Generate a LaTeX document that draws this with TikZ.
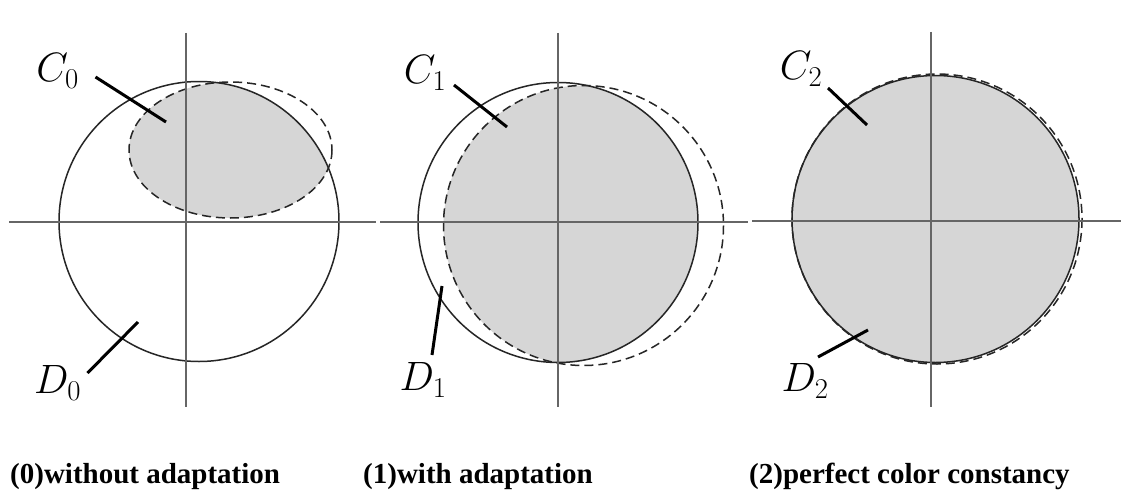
\RequirePackage{fix-cm}
\documentclass[tikz,border=0pt]{standalone}
\usepackage[no-math]{fontspec}
\setmainfont{Liberation Serif}
\begin{document}
\begin{tikzpicture}[x=1pt, y=-1pt,
  axis/.style={draw=black!60, line width=1.4pt},
  rim/.style={draw=black!85, line width=1.5pt},
  rimdash/.style={draw=black!85, line width=1.5pt, dash pattern=on 9pt off 5pt},
  stipple/.style={fill=black!16},
  leader/.style={line width=3pt},
  lbl/.style={inner sep=0pt, font=\fontsize{41}{48}\selectfont},
  capt/.style={anchor=base west, inner sep=0pt, font=\fontsize{29}{34}\selectfont\bfseries}]
  \useasboundingbox[fill=white] (0,0) rectangle (1121,495);
  % (0) 順応なし: 色域 C_0 (楕円) は D_0 の右上に偏る
  \begin{scope}
    \clip (199,221.5) circle (140);
    \fill[stipple] (230.5,150) ellipse (101.5 and 68);
  \end{scope}
  \draw[rimdash] (230.5,150) ellipse (101.5 and 68);
  \draw[rim] (199,221.5) circle (140);
  \draw[axis] (9,222) -- (376,222);
  \draw[axis] (186,33) -- (186,407);
  \node[lbl] (C0) at (57.5,71) {$C_0$};
  \node[lbl] (D0) at (57.5,383) {$D_0$};
  \coordinate (C0e) at (166,122);
  \coordinate (D0e) at (138,322);
  \draw[leader] ([shift={(38,6)}]C0.center) -- (C0e);
  \draw[leader] ([shift={(30,-10)}]D0.center) -- (D0e);
  % (1) 順応あり: C_1 は D_1 と同じ大きさで少し右下にずれる
  \begin{scope}
    \clip (558,222.5) circle (140);
    \fill[stipple] (583.5,225.5) circle (140);
  \end{scope}
  \draw[rimdash] (583.5,225.5) circle (140);
  \draw[rim] (558,222.5) circle (140);
  \draw[axis] (380,222) -- (748,222);
  \draw[axis] (558,33) -- (558,407);
  \node[lbl] (C1) at (425,73) {$C_1$};
  \node[lbl] (D1) at (423,380) {$D_1$};
  \coordinate (C1e) at (507,127);
  \coordinate (D1e) at (442,286);
  \draw[leader] ([shift={(29,12)}]C1.center) -- (C1e);
  \draw[leader] ([shift={(9,-25)}]D1.center) -- (D1e);
  % (2) 完全な色恒常性: C_2 と D_2 はほぼ一致
  \fill[stipple] (935.5,219) circle (143.5);
  \draw[rimdash] (937,219) circle (145);
  \draw[rim] (935.5,219) circle (143.5);
  \draw[axis] (752,221) -- (1121,221);
  \draw[axis] (931,32) -- (931,407);
  \node[lbl] (C2) at (801,69) {$C_2$};
  \node[lbl] (D2) at (805,381) {$D_2$};
  \coordinate (C2e) at (867,125);
  \coordinate (D2e) at (868,330);
  \draw[leader] ([shift={(27,19)}]C2.center) -- (C2e);
  \draw[leader] ([shift={(13,-24)}]D2.center) -- (D2e);
  % 見出し
  \node[capt] (cap0) at (10,483) {(0)without adaptation};
  \node[capt] (cap1) at (363,483) {(1)with adaptation};
  \node[capt] (cap2) at (749,483) {(2)perfect color constancy};
\end{tikzpicture}
\end{document}
